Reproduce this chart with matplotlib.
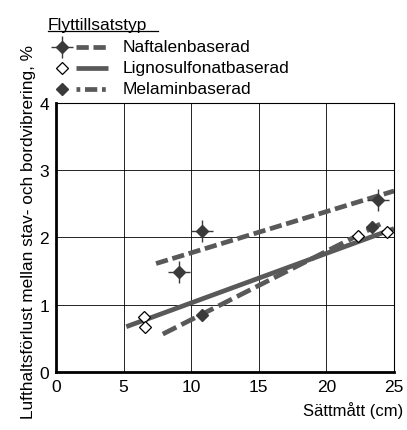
import matplotlib.pyplot as plt
from matplotlib.lines import Line2D

plt.rcParams['font.family'] = ['Liberation Sans', 'DejaVu Sans']

# Measured points per admixture type (sättmått in cm, air loss in %)
naft_x = [9.1, 10.8, 23.8]
naft_y = [1.48, 2.09, 2.55]
ligno_x = [6.5, 6.6, 22.3, 24.5]
ligno_y = [0.81, 0.67, 2.02, 2.08]
mel_x = [10.8, 23.4]
mel_y = [0.84, 2.15]

# Fitted trend lines (end points)
naft_fit_x = [7.4, 25.0]
naft_fit_y = [1.61, 2.69]
ligno_fit_x = [5.2, 25.0]
ligno_fit_y = [0.67, 2.13]
mel_fit_x = [7.9, 24.2]
mel_fit_y = [0.56, 2.22]

labels = ['Naftalenbaserad', 'Lignosulfonatbaserad', 'Melaminbaserad']

line_c = '#595959'
mark_c = '#3a3a3a'

fig = plt.figure(figsize=(4.07, 4.31), dpi=100)
ax = fig.add_axes([0.1376, 0.1353, 0.8305, 0.6234])

lw = 3.4
ax.plot(naft_fit_x, naft_fit_y, color=line_c, lw=lw, dashes=(2.6, 1.0), solid_capstyle='butt')
ax.plot(ligno_fit_x, ligno_fit_y, color=line_c, lw=lw, solid_capstyle='butt')
ax.plot(mel_fit_x, mel_fit_y, color=line_c, lw=lw, dashes=(3.2, 1.2), solid_capstyle='butt')

ax.plot(naft_x, naft_y, ls='none', marker='+', ms=16, mew=1.0, color=mark_c, zorder=4)
ax.plot(naft_x, naft_y, ls='none', marker='D', ms=6, color=mark_c, zorder=5)
ax.plot(ligno_x, ligno_y, ls='none', marker='D', ms=6, mfc='white', mec='black', mew=0.9, zorder=5)
ax.plot(mel_x, mel_y, ls='none', marker='D', ms=6, color=mark_c, zorder=5)

ax.set_xlim(0, 25)
ax.set_ylim(0, 4)
ax.set_xticks(range(0, 26, 5))
ax.set_yticks(range(0, 5))
ax.grid(True, color='black', lw=0.6)
ax.tick_params(length=0, labelsize=12.5, pad=5)
for side in ['left', 'bottom']:
    ax.spines[side].set_linewidth(2.0)
for side in ['top', 'right']:
    ax.spines[side].set_linewidth(0.8)

ax.set_ylabel('Lufthaltsförlust mellan stav- och bordvibrering, %', fontsize=12.4)
ax.yaxis.set_label_coords(-0.058, 0.525)
fig.text(0.99, 0.035, 'Sättmått (cm)', ha='right', va='baseline', fontsize=12)

# Legend drawn by hand in figure coordinates
W, H = 407, 431

def fx(px):
    return px / W

def fy(py):
    return 1 - py / H

fig.text(fx(48), fy(30), 'Flyttillsatstyp', fontsize=12.5, ha='left', va='baseline')
fig.add_artist(Line2D([fx(48), fx(158)], [fy(32), fy(32)], color='black', lw=0.9))

rows_y = [48, 69, 90]
styles = [dict(dashes=(2.6, 1.0)), dict(), dict(dashes=(0.8, 1.0, 2.6, 1.0))]
for ry, lab, st in zip(rows_y, labels, styles):
    fig.add_artist(Line2D([fx(76), fx(108)], [fy(ry), fy(ry)], color=line_c, lw=lw,
                          solid_capstyle='butt', **st))
    fig.text(fx(123), fy(ry), lab, fontsize=12.5, ha='left', va='center')

fig.add_artist(Line2D([fx(62)], [fy(48)], ls='none', marker='+', ms=16, mew=1.0, color=mark_c))
fig.add_artist(Line2D([fx(62)], [fy(48)], ls='none', marker='D', ms=6, color=mark_c))
fig.add_artist(Line2D([fx(62)], [fy(69)], ls='none', marker='D', ms=6, mfc='white', mec='black', mew=0.9))
fig.add_artist(Line2D([fx(62)], [fy(90)], ls='none', marker='D', ms=6, color=mark_c))

fig.savefig('out.png', dpi=100)
